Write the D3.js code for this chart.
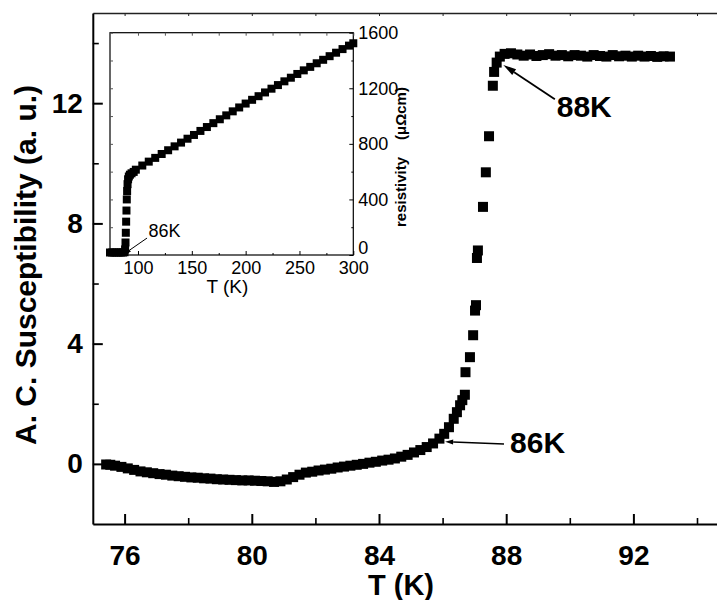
<!DOCTYPE html>
<html>
<head>
<meta charset="utf-8">
<script src="https://cdn.jsdelivr.net/npm/d3@7"></script>
<style>
body { margin: 0; background: #fff; }
svg { display: block; }
</style>
</head>
<body>
<div id="chart"></div>
<script>
"use strict";

/* main curve: A.C. susceptibility vs T */
var chiT = [75.42, 75.55, 75.7, 75.9, 76.1, 76.3, 76.5, 76.7, 76.9, 77.1, 77.3, 77.5, 77.7, 77.9,
  78.1, 78.3, 78.5, 78.7, 78.9, 79.1, 79.3, 79.5, 79.7, 79.9, 80.1, 80.3, 80.5, 80.7, 80.9,
  81.1, 81.3, 81.5, 81.7, 81.9, 82.1, 82.3, 82.5, 82.7, 82.9, 83.1, 83.3, 83.5, 83.7, 83.9,
  84.1, 84.3, 84.5, 84.7, 84.9, 85.1, 85.3, 85.5, 85.7, 85.9, 86.05, 86.2, 86.35, 86.45,
  86.55, 86.62, 86.7, 86.72, 86.86, 86.96, 87.02, 87.05, 87.08, 87.11, 87.27, 87.36, 87.46,
  87.58, 87.62, 87.7, 87.8, 87.95, 88.15, 88.35, 88.55, 88.75, 88.95, 89.15, 89.35, 89.55,
  89.75, 89.95, 90.15, 90.35, 90.55, 90.75, 90.95, 91.15, 91.35, 91.55, 91.75, 91.95, 92.15,
  92.35, 92.55, 92.75, 92.95, 93.15];
var chiV = [-0.02, -0.03, -0.06, -0.10, -0.15, -0.20, -0.25, -0.28, -0.31, -0.34, -0.36, -0.39, -0.41, -0.43,
  -0.45, -0.46, -0.48, -0.49, -0.51, -0.52, -0.53, -0.54, -0.55, -0.55, -0.56, -0.57, -0.58, -0.60, -0.58,
  -0.52, -0.44, -0.36, -0.29, -0.26, -0.22, -0.19, -0.16, -0.12, -0.09, -0.06, -0.03, 0.00, 0.04, 0.07,
  0.11, 0.14, 0.18, 0.24, 0.30, 0.38, 0.46, 0.56, 0.68, 0.84, 1.00, 1.22, 1.50, 1.72,
  1.95, 2.12, 2.30, 3.05, 3.55, 4.28, 5.10, 5.28, 6.85, 7.10, 8.55, 9.70, 10.90,
  12.58, 13.04, 13.35, 13.55, 13.64, 13.66, 13.62, 13.58, 13.62, 13.57, 13.6, 13.63, 13.58,
  13.6, 13.56, 13.6, 13.58, 13.55, 13.6, 13.57, 13.55, 13.6, 13.56, 13.58, 13.55, 13.58,
  13.55, 13.57, 13.54, 13.56, 13.55];

var xTicks = [76, 80, 84, 88, 92];
var xMinor = [78, 82, 86, 90, 94];
var yTicks = [0, 4, 8, 12];
var yMinor = [2, 6, 10, 14];

/* inset: resistivity vs T */
var rhoT = [74, 76, 78, 80, 82, 84, 86, 87.5, 88, 88.4, 88.7, 89, 89.3, 89.6, 89.9, 90.3, 90.8,
  91.5, 92.5, 94, 96, 98, 104, 110, 116, 122, 128, 134, 140, 146, 152, 158, 164, 170, 176,
  182, 188, 194, 200, 206, 212, 218, 224, 230, 236, 242, 248, 254, 260, 266, 272, 278, 284,
  290, 296, 300];
var rhoV = [18, 18, 18, 18, 18, 18, 18, 20, 40, 90, 160, 240, 320, 400, 460, 510, 545,
  565, 578, 588, 598, 614, 644, 672, 699, 727, 754, 782, 809, 837, 864, 893, 921, 949, 977,
  1005, 1034, 1062, 1090, 1117, 1143, 1170, 1197, 1223, 1250, 1276, 1303, 1329, 1354, 1380, 1405, 1431, 1456,
  1482, 1507, 1524];
var insetXTicks = [100, 150, 200, 250, 300];
var insetXMinor = [125, 175, 225, 275];
var insetYTicks = [0, 400, 800, 1200, 1600];
var insetYMinor = [200, 600, 1000, 1400];

var W = 717, H = 600;
var boldFont = "'Liberation Sans', Arial, Helvetica, sans-serif";
var narrowFont = "'Liberation Sans Narrow', 'Arial Narrow', 'Liberation Sans', sans-serif";

var svg = d3.select("#chart").append("svg")
  .attr("width", W).attr("height", H)
  .style("background", "#fff");

var x = d3.scaleLinear().domain([75, 95]).range([92.8, 728.8]);
var y = d3.scaleLinear().domain([-2, 15]).range([524, 13]);

function styleAxis(g, fs, weight, family) {
  g.selectAll("text")
    .attr("fill", "#000")
    .style("font-size", fs + "px")
    .style("font-weight", weight)
    .style("font-family", family);
  g.selectAll("line").attr("stroke", "#000");
}

// bottom axis
var gx = svg.append("g").attr("transform", "translate(0,524)")
  .call(d3.axisBottom(x).tickValues(xTicks).tickSize(-10).tickSizeOuter(0).tickPadding(21));
gx.select(".domain").attr("stroke", "#000").attr("stroke-width", 2);
gx.selectAll("line").attr("stroke-width", 2);
styleAxis(gx, 28, "bold", boldFont);
var gxm = svg.append("g").attr("transform", "translate(0,524)")
  .call(d3.axisBottom(x).tickValues(xMinor).tickSize(-6).tickFormat(""));
gxm.select(".domain").remove();
gxm.selectAll("line").attr("stroke", "#000").attr("stroke-width", 1.6);

// top axis (mirror)
var gt = svg.append("g").attr("transform", "translate(0,13)")
  .call(d3.axisTop(x).tickValues(xTicks.concat(xMinor)).tickSize(-3).tickSizeOuter(0).tickFormat(""));
gt.select(".domain").attr("stroke", "#222").attr("stroke-width", 1.3);
gt.selectAll("line").attr("stroke", "#222");

// left axis
var gy = svg.append("g").attr("transform", "translate(92.8,0)")
  .call(d3.axisLeft(y).tickValues(yTicks).tickSize(-10).tickSizeOuter(0).tickPadding(10));
gy.select(".domain").attr("stroke", "#000").attr("stroke-width", 2);
gy.selectAll("line").attr("stroke-width", 2);
styleAxis(gy, 28, "bold", boldFont);
var gym = svg.append("g").attr("transform", "translate(92.8,0)")
  .call(d3.axisLeft(y).tickValues(yMinor).tickSize(-6).tickFormat(""));
gym.select(".domain").remove();
gym.selectAll("line").attr("stroke", "#000").attr("stroke-width", 1.6);

// axis titles
svg.append("text")
  .attr("x", 401).attr("y", 595)
  .attr("text-anchor", "middle")
  .style("font-family", boldFont).style("font-weight", "bold").style("font-size", "29px")
  .text("T (K)");
svg.append("text")
  .attr("transform", "translate(36,265) rotate(-90)")
  .attr("text-anchor", "middle")
  .style("font-family", boldFont).style("font-weight", "bold").style("font-size", "30px")
  .text("A. C. Susceptibility (a. u.)");

// main markers
var ms = 10;
svg.append("g").selectAll("rect")
  .data(d3.range(chiT.length))
  .enter().append("rect")
  .attr("x", function (i) { return x(chiT[i]) - ms / 2; })
  .attr("y", function (i) { return y(chiV[i]) - ms / 2; })
  .attr("width", ms).attr("height", ms)
  .attr("fill", "#000");

// arrowheads
function arrow(g, x1, y1, x2, y2, headLen, headW, sw) {
  var a = Math.atan2(y2 - y1, x2 - x1);
  var bx = x2 - headLen * Math.cos(a), by = y2 - headLen * Math.sin(a);
  g.append("line").attr("x1", x1).attr("y1", y1).attr("x2", bx).attr("y2", by)
    .attr("stroke", "#000").attr("stroke-width", sw);
  var px = -Math.sin(a) * headW / 2, py = Math.cos(a) * headW / 2;
  g.append("path")
    .attr("d", "M" + x2 + "," + y2 + "L" + (bx + px) + "," + (by + py) + "L" + (bx - px) + "," + (by - py) + "Z")
    .attr("fill", "#000");
}

var ann = svg.append("g");
arrow(ann, x(89.53), y(12.13), x(87.91), y(13.27), 13, 7, 1.8);
ann.append("text").attr("x", x(89.59)).attr("y", y(11.55))
  .style("font-family", boldFont).style("font-weight", "bold").style("font-size", "30px")
  .text("88K");
arrow(ann, x(87.93), y(0.66), x(86.08), y(0.74), 8, 5, 1.5);
ann.append("text").attr("x", x(88.12)).attr("y", y(0.35))
  .style("font-family", boldFont).style("font-weight", "bold").style("font-size", "30px")
  .text("86K");

/* ---- inset ---- */
var ix = d3.scaleLinear().domain([74, 300]).range([110, 353.3]);
var iy = d3.scaleLinear().domain([0, 1600]).range([255, 32.7]);
var inset = svg.append("g");

inset.append("rect")
  .attr("x", ix(74)).attr("y", iy(1600))
  .attr("width", ix(300) - ix(74)).attr("height", iy(0) - iy(1600))
  .attr("fill", "#fff").attr("stroke", "#000").attr("stroke-width", 1.2);

var ib = inset.append("g").attr("transform", "translate(0," + iy(0) + ")")
  .call(d3.axisBottom(ix).tickValues(insetXTicks).tickSize(-4).tickSizeOuter(0).tickPadding(6)
    .tickFormat(d3.format("d")));
ib.select(".domain").remove();
styleAxis(ib, 18, "normal", narrowFont);
var ibm = inset.append("g").attr("transform", "translate(0," + iy(0) + ")")
  .call(d3.axisBottom(ix).tickValues(insetXMinor).tickSize(-2).tickFormat(""));
ibm.select(".domain").remove();
ibm.selectAll("line").attr("stroke", "#000");

var itop = inset.append("g").attr("transform", "translate(0," + iy(1600) + ")")
  .call(d3.axisTop(ix).tickValues(insetXTicks.concat(insetXMinor)).tickSize(-3).tickFormat(""));
itop.select(".domain").remove();
itop.selectAll("line").attr("stroke", "#555");

var ir = inset.append("g").attr("transform", "translate(" + ix(300) + ",0)")
  .call(d3.axisRight(iy).tickValues(insetYTicks).tickSize(-4).tickSizeOuter(0).tickPadding(5)
    .tickFormat(d3.format("d")));
ir.select(".domain").remove();
styleAxis(ir, 18, "normal", narrowFont);
// the "0" sits just above the "300" of the bottom axis
ir.selectAll(".tick text").filter(function (d) { return d === 0; }).attr("dy", "-0.1em");
var irm = inset.append("g").attr("transform", "translate(" + ix(300) + ",0)")
  .call(d3.axisRight(iy).tickValues(insetYMinor).tickSize(-2).tickFormat(""));
irm.select(".domain").remove();
irm.selectAll("line").attr("stroke", "#000");

var il = inset.append("g").attr("transform", "translate(" + ix(74) + ",0)")
  .call(d3.axisLeft(iy).tickValues(insetYTicks.concat(insetYMinor)).tickSize(-3).tickFormat(""));
il.select(".domain").remove();
il.selectAll("line").attr("stroke", "#555");

var ims = 8;
inset.append("g").selectAll("rect")
  .data(d3.range(rhoT.length))
  .enter().append("rect")
  .attr("x", function (i) { return ix(rhoT[i]) - ims / 2; })
  .attr("y", function (i) { return iy(rhoV[i]) - ims / 2; })
  .attr("width", ims).attr("height", ims)
  .attr("fill", "#000");

arrow(inset, ix(108.4), iy(122), ix(87), iy(7), 7, 4, 1);
inset.append("text").attr("x", ix(109.8)).attr("y", iy(126))
  .style("font-family", narrowFont).style("font-size", "18px")
  .text("86K");

inset.append("text")
  .attr("x", ix(183)).attr("y", 293)
  .attr("text-anchor", "middle")
  .style("font-family", narrowFont).style("font-size", "19px")
  .text("T (K)");

inset.append("text")
  .attr("transform", "translate(406,227) rotate(-90)")
  .style("font-family", boldFont).style("font-weight", "bold").style("font-size", "15px")
  .text("resistivity");
inset.append("text")
  .attr("transform", "translate(406,140) rotate(-90)")
  .style("font-family", boldFont).style("font-weight", "bold").style("font-size", "15px")
  .text("(\u03bc\u03a9cm)");
</script>
</body>
</html>
